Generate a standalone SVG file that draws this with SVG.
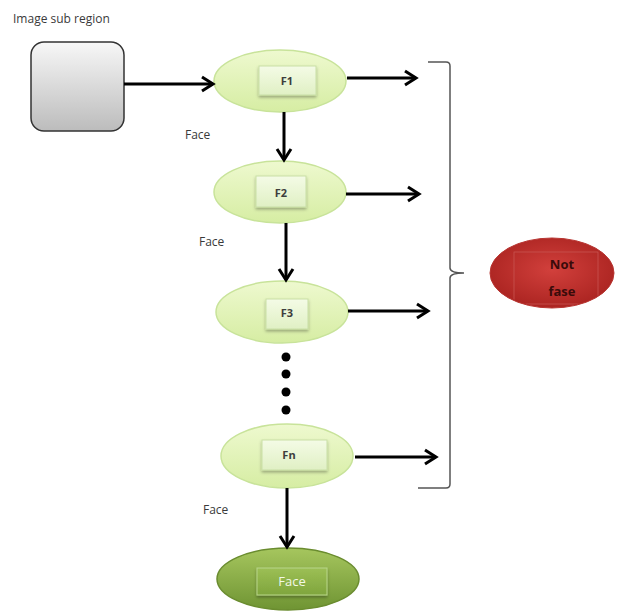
<svg xmlns="http://www.w3.org/2000/svg" width="625" height="612" viewBox="0 0 625 612">
<defs>
<style>
.lbl{font-family:"Open Sans","Liberation Sans",sans-serif;font-size:12px;fill:#3a3a3a}
.ft{font-family:"Open Sans","Liberation Sans",sans-serif;font-size:11px;font-weight:bold;fill:#3d3d3d;text-anchor:middle;dominant-baseline:central}
.edge{stroke:#000;stroke-width:3;fill:none;marker-end:url(#ah)}
.ell{fill:url(#lg);stroke:#c8e39a;stroke-width:1.5}
.box{fill:url(#bg);stroke:#c9dfa6;stroke-width:1}
</style>
<linearGradient id="lg" x1="0" y1="0" x2="0" y2="1"><stop offset="0" stop-color="#eef9cf"/><stop offset="1" stop-color="#d6eda3"/></linearGradient>
<linearGradient id="bg" x1="0" y1="0" x2="0" y2="1"><stop offset="0" stop-color="#f4fbe6"/><stop offset="1" stop-color="#e0f0c4"/></linearGradient>
<linearGradient id="gg" x1="0" y1="0" x2="0" y2="1"><stop offset="0" stop-color="#f7f7f7"/><stop offset="1" stop-color="#bcbcbc"/></linearGradient>
<linearGradient id="dg" x1="0" y1="0" x2="0" y2="1"><stop offset="0" stop-color="#a6c65e"/><stop offset="1" stop-color="#6f9433"/></linearGradient>
<linearGradient id="dgb" x1="0" y1="0" x2="0" y2="1"><stop offset="0" stop-color="#9cbf55"/><stop offset="1" stop-color="#7fa53d"/></linearGradient>
<radialGradient id="rg" cx="0.5" cy="0.45" r="0.6"><stop offset="0" stop-color="#d2403c"/><stop offset="1" stop-color="#a8221f"/></radialGradient>
<clipPath id="nc"><ellipse cx="552" cy="273" rx="61" ry="34"/></clipPath>
<filter id="sh" x="-20%" y="-20%" width="140%" height="150%"><feDropShadow dx="0" dy="2" stdDeviation="1.5" flood-color="#000" flood-opacity="0.3"/></filter>
<marker id="ah" markerWidth="16" markerHeight="18" refX="13" refY="9" orient="auto" markerUnits="userSpaceOnUse"><path d="M2,2 L13,9 L2,16" fill="none" stroke="#000" stroke-width="3"/></marker>
</defs>
<text class="lbl" x="13" y="23">Image sub region</text>
<g id="input"><rect x="31" y="42" width="93" height="89" rx="13" fill="url(#gg)" stroke="#333" stroke-width="1.5"/></g>
<g id="F1"><ellipse class="ell" cx="280" cy="81" rx="66" ry="31"/><rect class="box" x="259" y="66" width="57" height="29" filter="url(#sh)"/><text class="ft" x="287" y="80">F1</text></g>
<g id="F2"><ellipse class="ell" cx="280" cy="192" rx="66" ry="31"/><rect class="box" x="256" y="176" width="50" height="31" filter="url(#sh)"/><text class="ft" x="281" y="192">F2</text></g>
<g id="F3"><ellipse class="ell" cx="282" cy="312" rx="66" ry="31"/><rect class="box" x="266" y="299" width="42" height="30" filter="url(#sh)"/><text class="ft" x="287" y="312">F3</text></g>
<g id="Fn"><ellipse class="ell" cx="287" cy="456" rx="66" ry="32"/><rect class="box" x="262" y="440" width="65" height="30" filter="url(#sh)"/><text class="ft" x="289" y="454">Fn</text></g>
<g id="Face"><ellipse cx="288" cy="579" rx="71" ry="31" fill="url(#dg)" stroke="#6a8c2f" stroke-width="1.5"/><rect x="257" y="568" width="70" height="27" fill="url(#dgb)" stroke="#b8d68a" stroke-width="1" filter="url(#sh)"/><text class="ft" x="292" y="581" style="fill:#f2f8e6;font-weight:normal;font-size:13px">Face</text></g>
<g id="NotFase"><ellipse cx="552" cy="273" rx="62" ry="35" fill="url(#rg)" stroke="#b83531" stroke-width="1"/><rect x="514" y="252" width="84" height="52" fill="none" stroke="#c95450" stroke-width="0.8" clip-path="url(#nc)"/><text class="ft" x="562" y="264" style="fill:#3a0b0a;font-size:13px">Not</text><text class="ft" x="562" y="291" style="fill:#3a0b0a;font-size:13px">fase</text></g>
<g id="dots" fill="#000"><circle cx="286" cy="357" r="4.5"/><circle cx="286" cy="374" r="4.5"/><circle cx="286" cy="392" r="4.5"/><circle cx="286" cy="410" r="4.5"/></g>
<g id="brace"><path d="M428,62 L446,62 Q450,62 450,66 L450,268 Q450,273 464,273 Q450,273 450,278 L450,484 Q450,488 446,488 L418,488" fill="none" stroke="#555" stroke-width="1.5"/></g>
<g id="connectors">
<line class="edge" x1="124" y1="84" x2="213" y2="84"/>
<line class="edge" x1="347" y1="78" x2="416" y2="78"/>
<line class="edge" x1="284" y1="112" x2="284" y2="160"/>
<line class="edge" x1="346" y1="194" x2="419" y2="194"/>
<line class="edge" x1="286" y1="223" x2="286" y2="280"/>
<line class="edge" x1="348" y1="311" x2="428" y2="311"/>
<line class="edge" x1="355" y1="457" x2="436" y2="457"/>
<line class="edge" x1="287" y1="488" x2="287" y2="547"/>
</g>
<text class="lbl" x="185" y="139">Face</text>
<text class="lbl" x="199" y="246">Face</text>
<text class="lbl" x="203" y="514">Face</text>
</svg>
